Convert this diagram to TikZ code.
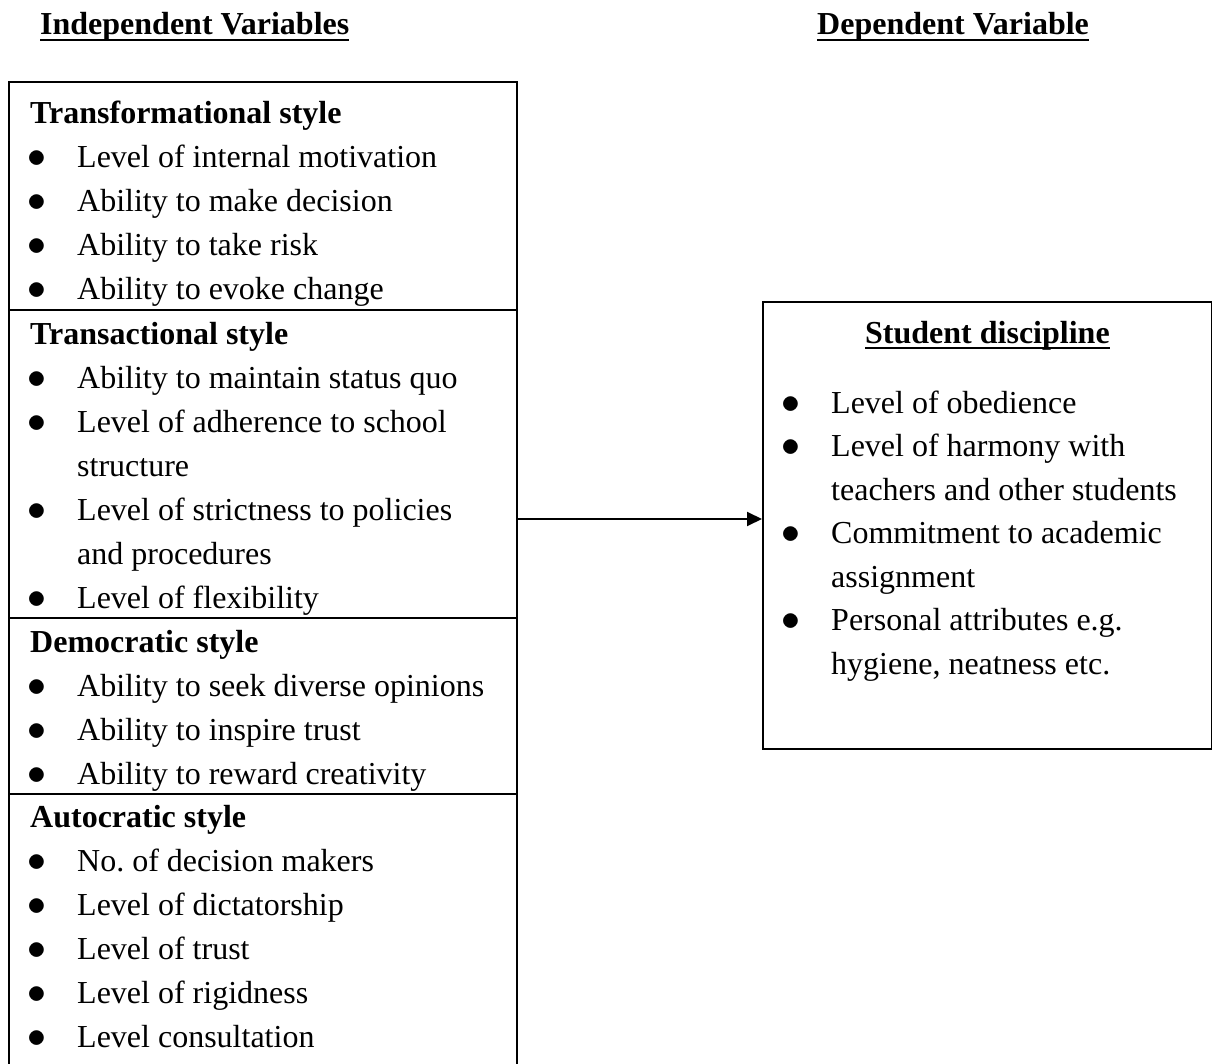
\documentclass[tikz,border=0pt]{standalone}
\usepackage{fix-cm}
\usepackage{fontspec}
\setmainfont{Liberation Serif}
\usetikzlibrary{positioning, arrows.meta}

% underlined bold heading, rule at a fixed depth
\newcommand{\hdr}[1]{\setbox0\hbox{\bfseries #1}\rlap{\rule[-6.5pt]{\wd0}{2.4pt}}\box0}
% bullet item and continuation line
\newcommand{\itm}{\hspace*{-3pt}\makebox[50pt][l]{\scalebox{1.18}{$\bullet$}}}
\newcommand{\cnt}{\hspace*{47pt}}

\begin{document}
\begin{tikzpicture}[
    x=1pt, y=-1pt,
    every node/.style={inner sep=0pt, font=\fontsize{32}{44}\selectfont},
    head/.style={anchor=base west},
    frame/.style={draw, line width=1.9pt, anchor=north west},
    group/.style={anchor=base west, align=left}, % placed at the baseline of the last line
    divider/.style={line width=1.6pt},
    >={Triangle[length=15pt, width=14pt]},
  ]
  \useasboundingbox (0,0) rectangle (1212,1064);

  % Headings
  \node[head] (ivhead) at (40,35)  {\hdr{Independent Variables}};
  \node[head] (dvhead) at (817,35) {\hdr{Dependent Variable}};

  % Independent variables (frame runs off the page at the bottom)
  \node[frame, minimum width=508pt, minimum height=1010pt] (indep) at (8,81) {};

  \node[group] (transf) at (30,300)
    {\textbf{Transformational style}\\
     \itm Level of internal motivation\\
     \itm Ability to make decision\\
     \itm Ability to take risk\\
     \itm Ability to evoke change};
  \node[group] (transa) at (30,608)
    {\textbf{Transactional style}\\
     \itm Ability to maintain status quo\\
     \itm Level of adherence to school\\
     \cnt structure\\
     \itm Level of strictness to policies\\
     \cnt and procedures\\
     \itm Level of flexibility};
  \node[group] (democ) at (30,784)
    {\textbf{Democratic style}\\
     \itm Ability to seek diverse opinions\\
     \itm Ability to inspire trust\\
     \itm Ability to reward creativity};
  \node[group] (autoc) at (30,1047)
    {\textbf{Autocratic style}\\
     \itm No.\ of decision makers\\
     \itm Level of dictatorship\\
     \itm Level of trust\\
     \itm Level of rigidness\\
     \itm Level consultation};

  % Section dividers
  \coordinate (cut1) at (0,310);
  \coordinate (cut2) at (0,618);
  \coordinate (cut3) at (0,794);
  \draw[divider] (indep.west |- cut1) -- (indep.east |- cut1);
  \draw[divider] (indep.west |- cut2) -- (indep.east |- cut2);
  \draw[divider] (indep.west |- cut3) -- (indep.east |- cut3);

  % Dependent variable
  \node[frame, minimum width=449pt, minimum height=447pt] (dep) at (762,301) {};
  \coordinate (titley) at (0,343);
  \node[anchor=base] (sdtitle) at (dep.north |- titley) {\hdr{Student discipline}};
  \node[group, font=\fontsize{32}{43.5}\selectfont] (sditems) at (784,674)
    {\itm Level of obedience\\
     \itm Level of harmony with\\
     \cnt teachers and other students\\
     \itm Commitment to academic\\
     \cnt assignment\\
     \itm Personal attributes e.g.\\
     \cnt hygiene, neatness etc.};

  % Link
  \coordinate (arrowy) at (0,519);
  \draw[->, line width=1.9pt] (indep.east |- arrowy) -- (dep.west |- arrowy);
\end{tikzpicture}
\end{document}
